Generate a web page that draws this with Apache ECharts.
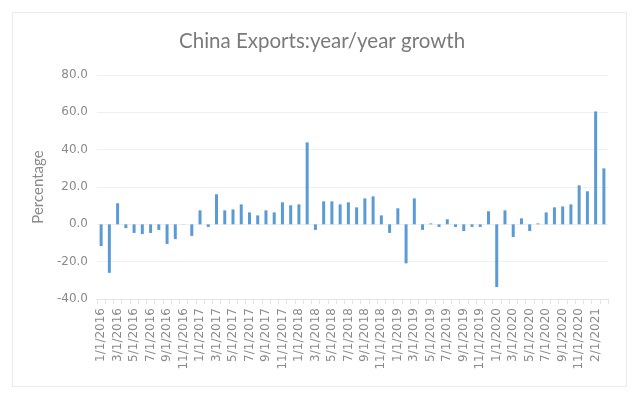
<!DOCTYPE html>
<html>
<head>
<meta charset="utf-8">
<script src="https://cdn.jsdelivr.net/npm/echarts@6/dist/echarts.min.js"></script>
<style>
html,body{margin:0;padding:0;background:#fff;}
#chart{width:643px;height:393px;}
</style>
</head>
<body>
<div id="chart"></div>
<script>
const categories = [
  "1/1/2016","2/1/2016","3/1/2016","4/1/2016","5/1/2016","6/1/2016","7/1/2016","8/1/2016","9/1/2016","10/1/2016","11/1/2016","12/1/2016",
  "1/1/2017","2/1/2017","3/1/2017","4/1/2017","5/1/2017","6/1/2017","7/1/2017","8/1/2017","9/1/2017","10/1/2017","11/1/2017","12/1/2017",
  "1/1/2018","2/1/2018","3/1/2018","4/1/2018","5/1/2018","6/1/2018","7/1/2018","8/1/2018","9/1/2018","10/1/2018","11/1/2018","12/1/2018",
  "1/1/2019","2/1/2019","3/1/2019","4/1/2019","5/1/2019","6/1/2019","7/1/2019","8/1/2019","9/1/2019","10/1/2019","11/1/2019","12/1/2019",
  "1/1/2020","2/1/2020","3/1/2020","4/1/2020","5/1/2020","6/1/2020","7/1/2020","8/1/2020","9/1/2020","10/1/2020","11/1/2020","12/1/2020",
  "2/1/2021","3/1/2021"
];
const exportsYoY = [
  -11.6,-26.0,11.3,-2.0,-4.6,-5.2,-4.6,-3.0,-10.5,-7.9,0.1,-6.2,
  7.5,-1.4,16.1,7.5,8.0,10.7,6.4,4.8,7.5,6.4,11.8,10.2,
  10.7,43.9,-3.0,12.3,12.3,10.7,11.8,9.1,13.9,15.0,4.8,-4.6,
  8.6,-20.9,13.9,-3.0,0.5,-1.4,2.7,-1.4,-3.6,-1.4,-1.4,7.0,
  -33.6,7.5,-6.8,3.2,-3.6,0.5,6.4,9.1,9.6,10.7,20.9,17.7,
  60.5,30.0
];
const yTicks = {min: -40, max: 80, interval: 20};
const titleText = "China Exports:year/year growth";
const yAxisName = "Percentage";

const chart = echarts.init(document.getElementById('chart'), null, {renderer: 'canvas'});
chart.setOption({
  animation: false,
  backgroundColor: '#fff',
  textStyle: {fontFamily: 'DejaVu Sans'},
  title: {
    text: titleText,
    left: 174,
    top: 26,
    textStyle: {fontFamily: 'Lato', fontSize: 20.5, fontWeight: 'normal', color: '#7a7a7a'}
  },
  graphic: [{
    type: 'rect',
    shape: {x: 12.5, y: 12.5, width: 614, height: 374},
    style: {fill: 'none', stroke: '#ebebeb', lineWidth: 1},
    silent: true
  }],
  grid: {left: 97, right: 35, top: 75, bottom: 94},
  xAxis: [{
    type: 'category',
    data: categories,
    position: 'bottom',
    axisLine: {show: false},
    axisTick: {show: false},
    axisLabel: {
      interval: 1, rotate: 90, margin: 9,
      fontFamily: 'DejaVu Sans', fontSize: 12, color: '#8a8a8a'
    },
    splitLine: {show: false}
  }, {
    type: 'category',
    data: categories,
    position: 'bottom',
    axisLine: {show: true, onZero: true, lineStyle: {color: '#e3e3e3', width: 1}},
    axisTick: {show: true, interval: 0, length: 5, inside: false, lineStyle: {color: '#e3e3e3'}},
    axisLabel: {show: false},
    splitLine: {show: false}
  }],
  yAxis: {
    type: 'value',
    min: yTicks.min, max: yTicks.max, interval: yTicks.interval,
    name: yAxisName,
    nameLocation: 'middle',
    nameRotate: 90,
    nameGap: 42,
    nameTextStyle: {fontFamily: 'Lato', fontSize: 15, color: '#8a8a8a'},
    axisLine: {show: false},
    axisTick: {show: false},
    axisLabel: {
      margin: 9, fontFamily: 'DejaVu Sans', fontSize: 12, color: '#8a8a8a',
      formatter: v => v.toFixed(1)
    },
    splitLine: {lineStyle: {color: '#f0f0f0', width: 1}}
  },
  series: [{
    type: 'bar',
    data: exportsYoY,
    xAxisIndex: 0,
    barWidth: 3,
    itemStyle: {color: '#5b9bd5'}
  }]
});
</script>
</body>
</html>
